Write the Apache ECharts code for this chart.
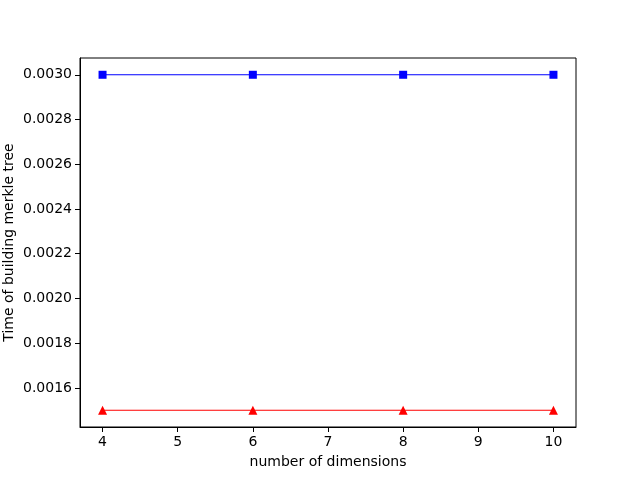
<!DOCTYPE html>
<html><head><meta charset="utf-8">
<script src="https://cdn.jsdelivr.net/npm/echarts@6/dist/echarts.min.js"></script>
<style>html,body{margin:0;padding:0;background:#fff}#c{width:640px;height:480px}</style>
</head><body><div id="c"></div>
<script>
const dims = [4, 6, 8, 10];
const blueSeries = [0.0030, 0.0030, 0.0030, 0.0030];
const redSeries = [0.0015, 0.0015, 0.0015, 0.0015];
const xTicks = [4, 5, 6, 7, 8, 9, 10];
const yTicks = [0.0016, 0.0018, 0.0020, 0.0022, 0.0024, 0.0026, 0.0028, 0.0030];

const font = 'DejaVu Sans';
const chart = echarts.init(document.getElementById('c'), null, {renderer: 'canvas'});
const axisCommon = {
  axisLine: {show: true, onZero: false, lineStyle: {color: '#000', width: 1}},
  axisTick: {show: true, inside: false, length: 5, lineStyle: {color: '#000', width: 1}},
  splitLine: {show: false},
  nameMoveOverlap: false,
  nameTextStyle: {color: '#000', fontFamily: font, fontSize: 14}
};
chart.setOption({
  animation: false,
  backgroundColor: '#fff',
  grid: {left: 80, right: 64, top: 58, bottom: 53, containLabel: false, outerBoundsMode: 'none',
         show: true, borderColor: '#000', borderWidth: 1, backgroundColor: 'transparent'},
  xAxis: Object.assign({}, axisCommon, {
    type: 'value', min: 3.7, max: 10.3,
    name: 'number of dimensions', nameLocation: 'middle', nameGap: 28,
    axisTick: Object.assign({}, axisCommon.axisTick, {customValues: xTicks}),
    axisLabel: {customValues: xTicks, color: '#000', fontFamily: font, fontSize: 14, margin: 8, formatter: v => String(v)}
  }),
  yAxis: Object.assign({}, axisCommon, {
    type: 'value', min: 0.001425, max: 0.003075,
    name: 'Time of building merkle tree', nameLocation: 'middle', nameGap: 64,
    axisTick: Object.assign({}, axisCommon.axisTick, {customValues: yTicks}),
    axisLabel: {customValues: yTicks, color: '#000', fontFamily: font, fontSize: 14, margin: 8, formatter: v => v.toFixed(4)}
  }),
  series: [
    {type: 'line', data: dims.map((d, i) => [d, blueSeries[i]]), symbol: 'rect', symbolSize: 8,
     itemStyle: {color: '#0000ff'}, lineStyle: {color: '#0000ff', width: 1.2}},
    {type: 'line', data: dims.map((d, i) => [d, redSeries[i]]), symbol: 'triangle', symbolSize: 9,
     itemStyle: {color: '#ff0000'}, lineStyle: {color: '#ff0000', width: 1.2}}
  ]
});
</script></body></html>
